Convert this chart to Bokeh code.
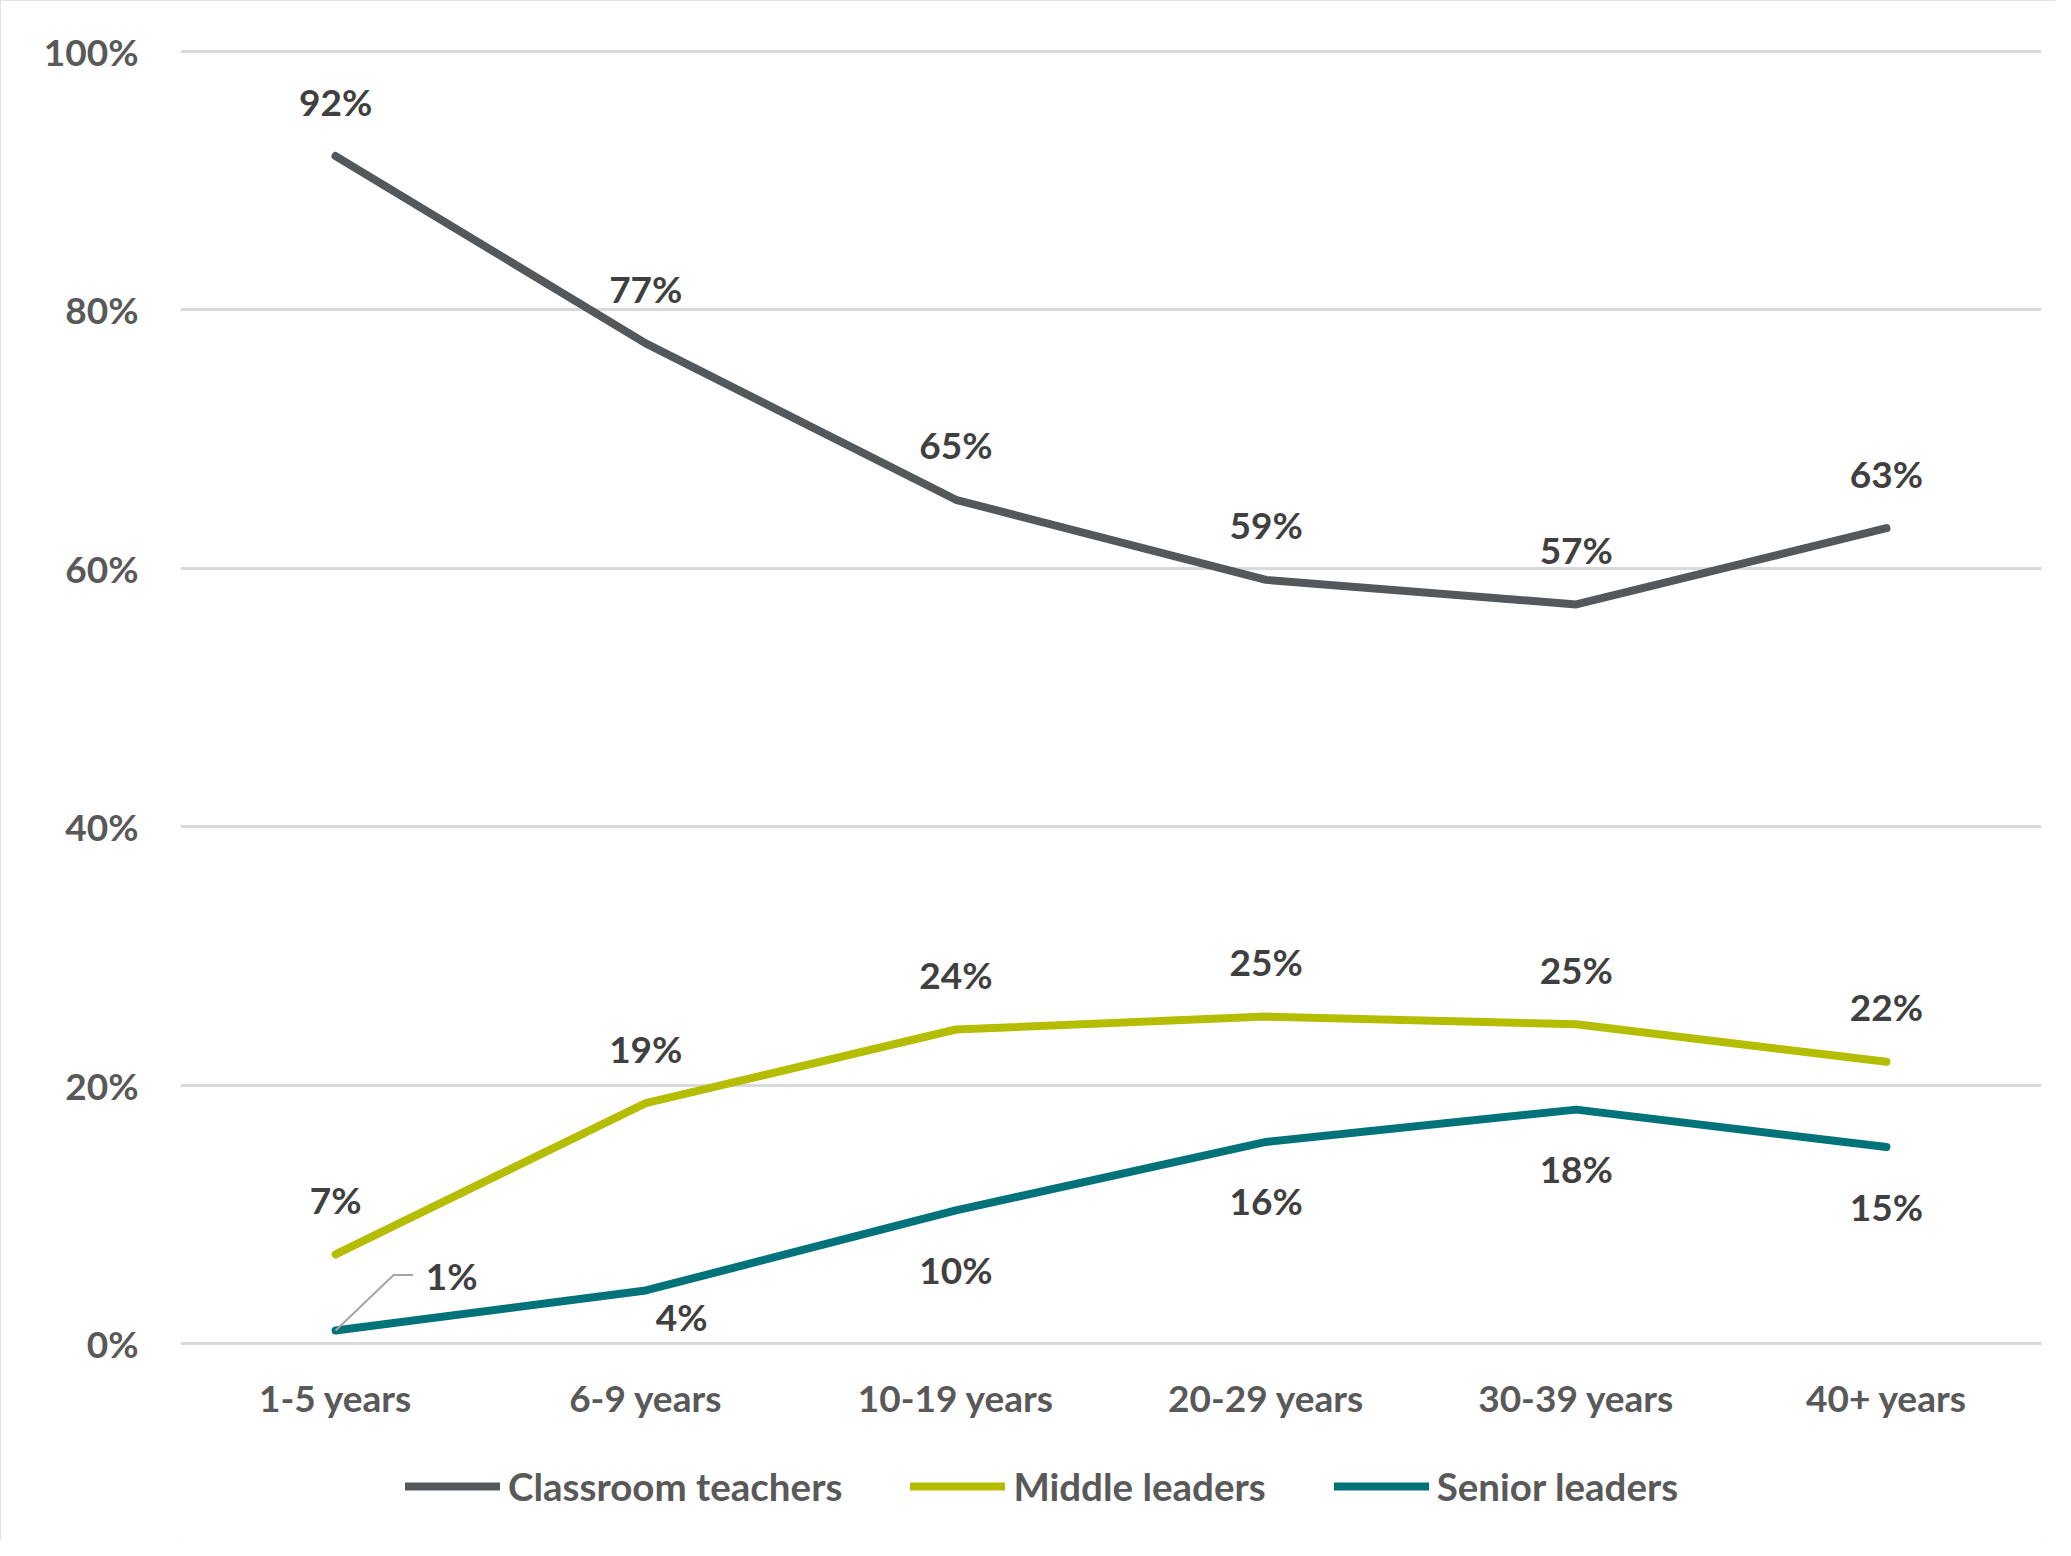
from bokeh.plotting import figure
from bokeh.models import (Range1d, FixedTicker, PrintfTickFormatter, Legend, LegendItem,
                          ColumnDataSource)
from bokeh.core.properties import value
from bokeh.embed import file_html
from bokeh.resources import INLINE

# ---- data ----
categories = ["1-5 years", "6-9 years", "10-19 years", "20-29 years", "30-39 years", "40+ years"]
classroom = [91.9, 77.4, 65.3, 59.1, 57.2, 63.1]
middle = [6.9, 18.6, 24.3, 25.3, 24.7, 21.8]
senior = [1.0, 4.1, 10.3, 15.6, 18.1, 15.2]
series_names = ["Classroom teachers", "Middle leaders", "Senior leaders"]
y_ticks = [0, 20, 40, 60, 80, 100]

# ---- styles ----
colors = ["#54585A", "#B5BD00", "#00737A"]
FONT = "Lato"
FS = "37px"
W, H = 2055, 1540

xs = [i + 0.5 for i in range(len(categories))]

p = figure(width=W, height=H, output_backend="svg", toolbar_location=None,
           x_range=Range1d(0, len(categories)), y_range=Range1d(-15.25, 101),
           x_axis_location=None,
           min_border_left=180, min_border_right=14, min_border_top=38, min_border_bottom=0,
           styles={"outline": "3px solid #D9D9D9", "outline-offset": "-3px"})
p.outline_line_color = None
p.background_fill_color = "white"
p.border_fill_color = "white"

# y axis
p.yaxis.ticker = FixedTicker(ticks=y_ticks)
p.yaxis.formatter = PrintfTickFormatter(format="%d%%")
ax = p.yaxis[0]
ax.axis_line_color = None
ax.major_tick_line_color = None
ax.minor_tick_line_color = None
ax.major_label_text_font = FONT
ax.major_label_text_font_style = "bold"
ax.major_label_text_font_size = FS
ax.major_label_text_color = "#595959"
ax.major_label_standoff = 36
p.xgrid.grid_line_color = None
p.ygrid.ticker = FixedTicker(ticks=y_ticks)
p.ygrid.grid_line_color = "#D9D9D9"
p.ygrid.grid_line_width = 3

# category labels (x axis)
p.text(x=xs, y=[0] * len(xs), text=categories, y_offset=54,
       text_font=value(FONT), text_font_style="bold", text_font_size=FS,
       text_color="#595959", text_align="center", text_baseline="middle")

# lines
renderers = []
for vals, col in zip([classroom, middle, senior], colors):
    r = p.line(xs, vals, line_color=col, line_width=8, line_cap="round", line_join="round")
    renderers.append(r)

# leader line for the first senior label
lx = [xs[0], xs[0] + 0.187, xs[0] + 0.25]
ly = [senior[0], senior[0] + 4.3, senior[0] + 4.3]
p.line(lx, ly, line_color="#A6A6A6", line_width=2)

# data labels
def labels(vals, xoff, yoff, align="center"):
    src = ColumnDataSource(dict(x=xs, y=vals, t=[f"{v:.0f}%" for v in vals],
                                xo=xoff, yo=yoff))
    p.text(x="x", y="y", text="t", x_offset="xo", y_offset="yo", source=src,
           text_font=value(FONT), text_font_style="bold", text_font_size=FS,
           text_color="#404040", text_align=align, text_baseline="middle")

n = len(categories)
labels(classroom, [0] * n, [-55] * n)
labels(middle, [0] * n, [-55] * n)
labels(senior, [116, 36, 0, 0, 0, 0], [-55, 26, 59, 59, 59, 59])

# legend
legend = Legend(items=[LegendItem(label=nm, renderers=[r]) for nm, r in zip(series_names, renderers)],
                orientation="horizontal", location=(225, 31),
                label_text_font=FONT, label_text_font_style="bold", label_text_font_size="38.5px",
                label_text_color="#595959", glyph_width=95, glyph_height=40, label_height=40,
                label_standoff=8, spacing=68, padding=0, margin=0,
                background_fill_alpha=0, border_line_color=None)
p.add_layout(legend, "center")

open("out.html", "w").write(file_html(p, INLINE))
